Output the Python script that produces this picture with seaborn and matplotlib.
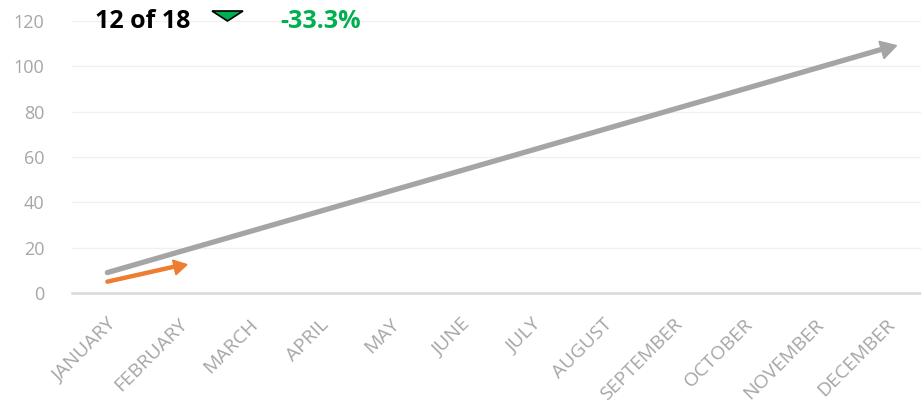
import math
import matplotlib
matplotlib.use("Agg")
from matplotlib import pyplot as plt
from matplotlib.patches import Polygon
import pandas as pd
import seaborn as sns

months = ["JANUARY", "FEBRUARY", "MARCH", "APRIL", "MAY", "JUNE", "JULY",
          "AUGUST", "SEPTEMBER", "OCTOBER", "NOVEMBER", "DECEMBER"]
target = [9, 18, 27, 36, 45, 54, 63, 72, 81, 90, 99, 108]
actual = [5, 12]
yticks = [0, 20, 40, 60, 80, 100, 120]
rank_text = "12 of 18"
change_text = "-33.3%"

gray = "#a5a5a5"
orange = "#ed7d31"
green = "#00b050"

sns.set_style("white")
plt.rcParams["font.family"] = ["Open Sans", "DejaVu Sans"]

fig = plt.figure(figsize=(9.21, 4.09), dpi=100)
ax = fig.add_axes([72 / 921, 1 - 293 / 409, 1 - 72 / 921, (293 - 21) / 409])

dfT = pd.DataFrame({"month": months, "value": target})
dfA = pd.DataFrame({"month": months[:len(actual)], "value": actual})

sns.lineplot(data=dfT, x="month", y="value", ax=ax, color=gray, lw=3.8,
             solid_capstyle="round", sort=False)
sns.lineplot(data=dfA, x="month", y="value", ax=ax, color=orange, lw=3.2,
             solid_capstyle="round", sort=False)

ax.set_xlim(-0.5, len(months) - 0.5)
ax.set_ylim(0, 120)

# triangle arrow heads on the last point, turned along the last segment
for vals, col, ms in [(target, gray, 15), (actual, orange, 12.5)]:
    n = len(vals)
    p0 = ax.transData.transform((n - 2, vals[-2]))
    p1 = ax.transData.transform((n - 1, vals[-1]))
    ang = math.degrees(math.atan2(p1[1] - p0[1], p1[0] - p0[0]))
    ax.plot([n - 1], [vals[-1]], marker=(3, 0, ang - 90), ms=ms,
            color=col, mec=col, lw=0, clip_on=False)

ax.set_yticks(yticks)
ax.set_xlabel("")
ax.set_ylabel("")
ax.grid(axis="y", color="#f0f0f0", lw=1)
ax.set_axisbelow(True)
for s in ["top", "right", "left"]:
    ax.spines[s].set_visible(False)
ax.spines["bottom"].set_color("#d9d9d9")
ax.spines["bottom"].set_linewidth(1.8)

ax.tick_params(axis="y", length=0, pad=20, labelsize=13, labelcolor="#a6a6a6")
ax.tick_params(axis="x", length=0, pad=16, labelsize=14, labelcolor="#a6a6a6")
plt.setp(ax.get_xticklabels(), rotation=45, ha="right", rotation_mode="anchor")

fig.text(95 / 921, 1 - 22 / 409, rank_text, fontsize=18, fontweight="bold",
         color="black", va="center", ha="left")
fig.text(280 / 921, 1 - 22 / 409, change_text, fontsize=18, fontweight="bold",
         color=green, va="center", ha="left")
tri = Polygon([(212 / 921, 1 - 11 / 409), (243 / 921, 1 - 11 / 409),
               (227.5 / 921, 1 - 21 / 409)], closed=True, facecolor=green,
              edgecolor="black", lw=1.2, transform=fig.transFigure)
fig.patches.append(tri)

fig.savefig("out.png", dpi=100)
plt.close(fig)
